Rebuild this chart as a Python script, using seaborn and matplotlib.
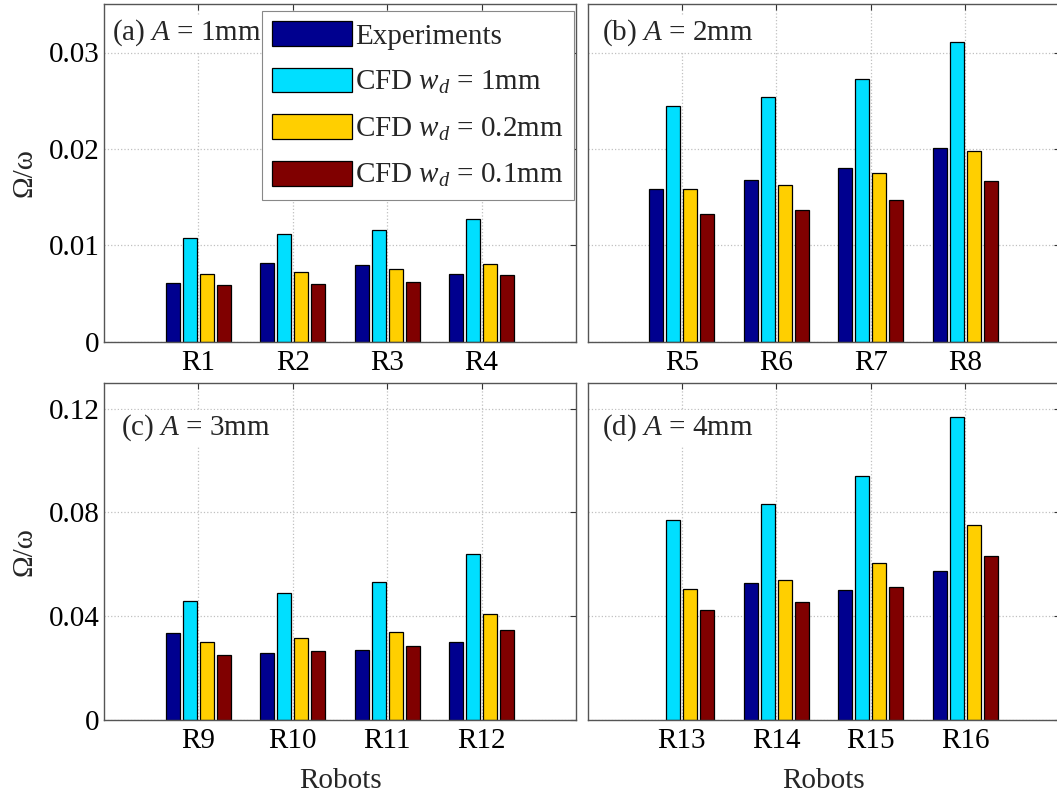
import numpy as np
import pandas as pd
import matplotlib
matplotlib.use("Agg")
import matplotlib.pyplot as plt
import seaborn as sns

# ---------------- data ----------------
robots = ["R1", "R2", "R3", "R4", "R5", "R6", "R7", "R8",
          "R9", "R10", "R11", "R12", "R13", "R14", "R15", "R16"]
panel_labels = ["(a) $A$ = 1mm", "(b) $A$ = 2mm", "(c) $A$ = 3mm", "(d) $A$ = 4mm"]
series_names = ["Experiments", "CFD $w_d$ = 1mm", "CFD $w_d$ = 0.2mm", "CFD $w_d$ = 0.1mm"]

experiments = [0.0061, 0.0082, 0.0080, 0.0070, 0.0158, 0.0168, 0.0180, 0.0201,
               0.0336, 0.0260, 0.0269, 0.0301, np.nan, 0.0528, 0.0500, 0.0574]
cfd_1mm = [0.0108, 0.0112, 0.0116, 0.0127, 0.0245, 0.0254, 0.0273, 0.0311,
           0.0458, 0.0490, 0.0531, 0.0641, 0.0772, 0.0833, 0.0940, 0.1167]
cfd_02mm = [0.0070, 0.0072, 0.0075, 0.0081, 0.0158, 0.0163, 0.0175, 0.0198,
            0.0299, 0.0317, 0.0340, 0.0409, 0.0503, 0.0541, 0.0605, 0.0753]
cfd_01mm = [0.0059, 0.0060, 0.0062, 0.0069, 0.0132, 0.0137, 0.0147, 0.0167,
            0.0249, 0.0265, 0.0286, 0.0347, 0.0424, 0.0455, 0.0512, 0.0630]

yticks_top = [0, 0.01, 0.02, 0.03]
yticks_bottom = [0, 0.04, 0.08, 0.12]
ylim_top = 0.035
ylim_bottom = 0.13

colors = [(0, 0, 0.5625), (0, 0.875, 1.0), (1.0, 0.8125, 0), (0.5, 0, 0)]

# ---------------- long table ----------------
rows = []
for vals, name in zip([experiments, cfd_1mm, cfd_02mm, cfd_01mm], series_names):
    for i, (r, v) in enumerate(zip(robots, vals)):
        rows.append({"robot": r, "panel": i // 4, "series": name, "value": v})
df = pd.DataFrame(rows)

# ---------------- style ----------------
sns.set_theme(style="white")
plt.rcParams["font.family"] = ["Liberation Serif", "DejaVu Serif"]
plt.rcParams["mathtext.fontset"] = "custom"
plt.rcParams["mathtext.rm"] = "Liberation Serif"
plt.rcParams["mathtext.it"] = "Liberation Serif:italic"
plt.rcParams["mathtext.bf"] = "Liberation Serif:bold"
FS = 21

fig = plt.figure(figsize=(10.57, 7.94), dpi=100)
W = 472 / 1057
H = 337.4 / 794
lefts = [104 / 1057, 587.5 / 1057]
bottoms = [1 - 341.7 / 794, 1 - 720 / 794]
text_pos = [(0.016, 0.915), (0.030, 0.915), (0.0355, 0.866), (0.030, 0.866)]

for p in range(4):
    r, c = divmod(p, 2)
    ax = fig.add_axes([lefts[c], bottoms[r], W, H])
    sub = df[df["panel"] == p]
    order = robots[p * 4:(p + 1) * 4]
    sns.barplot(data=sub, x="robot", y="value", hue="series", order=order,
                hue_order=series_names, palette=colors, width=0.72, gap=0.18,
                edgecolor="black", linewidth=0.9, saturation=1, errorbar=None,
                ax=ax, legend=(p == 0))
    ax.set_xlim(-1, 4)
    if r == 0:
        ax.set_ylim(0, ylim_top)
        ax.set_yticks(yticks_top)
        ax.set_yticklabels(["0", "0.01", "0.02", "0.03"] if c == 0 else [])
    else:
        ax.set_ylim(0, ylim_bottom)
        ax.set_yticks(yticks_bottom)
        ax.set_yticklabels(["0", "0.04", "0.08", "0.12"] if c == 0 else [])
    ax.set_axisbelow(True)
    ax.grid(True, linestyle=":", color="#c0c0c0", linewidth=0.9)
    ax.tick_params(direction="in", top=True, right=True, length=4, width=0.8,
                   labelsize=FS, colors="#333333", labelcolor="black")
    ax.tick_params(axis="x", pad=6)
    ax.tick_params(axis="y", pad=3)
    for s in ax.spines.values():
        s.set_color("#555555")
        s.set_linewidth(1.0)
    ax.set_ylabel("Ω/ω" if c == 0 else "", fontsize=FS, labelpad=8)
    ax.set_xlabel("Robots" if r == 1 else "", fontsize=FS, labelpad=10)
    tx, ty = text_pos[p]
    ax.text(tx, ty, panel_labels[p], transform=ax.transAxes, fontsize=FS,
            ha="left", va="center", zorder=5,
            bbox=dict(facecolor="white", edgecolor="none", pad=2))
    if p == 0:
        h, l = ax.get_legend_handles_labels()
        ax.legend(h, l, loc="upper left", bbox_to_anchor=(0.334, 0.980),
                  borderaxespad=0, fontsize=FS, handlelength=2.75,
                  handleheight=0.92, handletextpad=0.1, labelspacing=0.62,
                  borderpad=0.35, fancybox=False, framealpha=1,
                  edgecolor="#888888", title=None)
        ax.get_legend().get_frame().set_linewidth(0.8)
        ax.get_legend().set_zorder(6)

fig.savefig("out.png", dpi=100)
